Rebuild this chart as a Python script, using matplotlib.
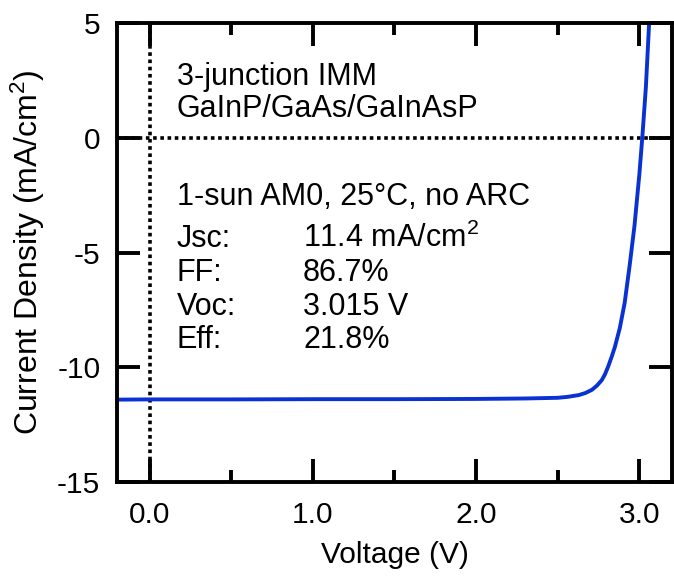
import matplotlib
matplotlib.use("Agg")
import matplotlib.pyplot as plt
from matplotlib.ticker import MultipleLocator

plt.rcParams["font.family"] = ["Liberation Sans", "DejaVu Sans"]
plt.rcParams["mathtext.fontset"] = "custom"
plt.rcParams["mathtext.rm"] = "Liberation Sans"
plt.rcParams["mathtext.it"] = "Liberation Sans"
plt.rcParams["axes.unicode_minus"] = False

# J-V curve
voltage = [-0.2, 0.0, 0.5, 1.0, 1.5, 2.0, 2.3, 2.5, 2.56, 2.63, 2.67, 2.71,
           2.74, 2.77, 2.79, 2.81, 2.83, 2.85, 2.88, 2.91, 2.94, 2.97, 3.0,
           3.018, 3.04, 3.06]
current = [-11.41, -11.40, -11.40, -11.39, -11.39, -11.38, -11.36, -11.33, -11.29,
           -11.21, -11.12, -10.98, -10.80, -10.56, -10.30, -9.95, -9.55, -9.12,
           -8.30, -7.20, -5.60, -3.85, -1.60, 0.0, 2.2, 5.0]

header = ["3-junction IMM", "GaInP/GaAs/GaInAsP"]
conditions = "1-sun AM0, 25\u00b0C, no ARC"
param_names = ["Jsc:", "FF:", "Voc:", "Eff:"]
param_values = ["11.4 mA/cm$^2$", "86.7%", "3.015 V", "21.8%"]

fs = 21.5
fs_note = 22
fig = plt.figure(figsize=(6.74, 5.8), dpi=100)
ax = fig.add_axes([0.1736, 0.169, 0.8234, 0.791])

ax.axhline(0, color="black", lw=2.6, ls=(0, (1, 1)))
ax.axvline(0, color="black", lw=2.6, ls=(0, (1, 1)))
ax.plot(voltage, current, color="#0a32d2", lw=2.8)

ax.set_xlim(-0.2, 3.2)
ax.set_ylim(-15, 5)
ax.set_xticks([0, 1, 2, 3])
ax.set_xticklabels(["0.0", "1.0", "2.0", "3.0"])
ax.xaxis.set_minor_locator(MultipleLocator(0.5))
ax.yaxis.set_major_locator(MultipleLocator(5))
ax.tick_params(which="both", direction="in", top=True, right=True, width=2.8,
               labelsize=fs, color="black")
ax.tick_params(which="major", length=16.5)
ax.tick_params(which="minor", length=8.5)
ax.tick_params(axis="x", which="major", pad=14)
ax.tick_params(axis="y", which="major", pad=12)
for s in ax.spines.values():
    s.set_linewidth(2.8)

ax.set_xlabel("Voltage (V)", fontsize=fs, labelpad=8)
ax.set_ylabel("Current Density (mA/cm$^2$)", fontsize=23, labelpad=7)

ax.text(0.165, 2.30, header[0], fontsize=fs_note, va="baseline")
ax.text(0.165, 0.90, header[1], fontsize=fs_note, va="baseline")
ax.text(0.165, -2.93, conditions, fontsize=fs_note, va="baseline")
rows_y = [-4.77, -6.23, -7.70, -9.16]
for name, val, y in zip(param_names, param_values, rows_y):
    ax.text(0.165, y, name, fontsize=fs_note, va="baseline")
    ax.text(0.94, y, val, fontsize=fs_note, va="baseline")

fig.savefig("out.png", dpi=100)
